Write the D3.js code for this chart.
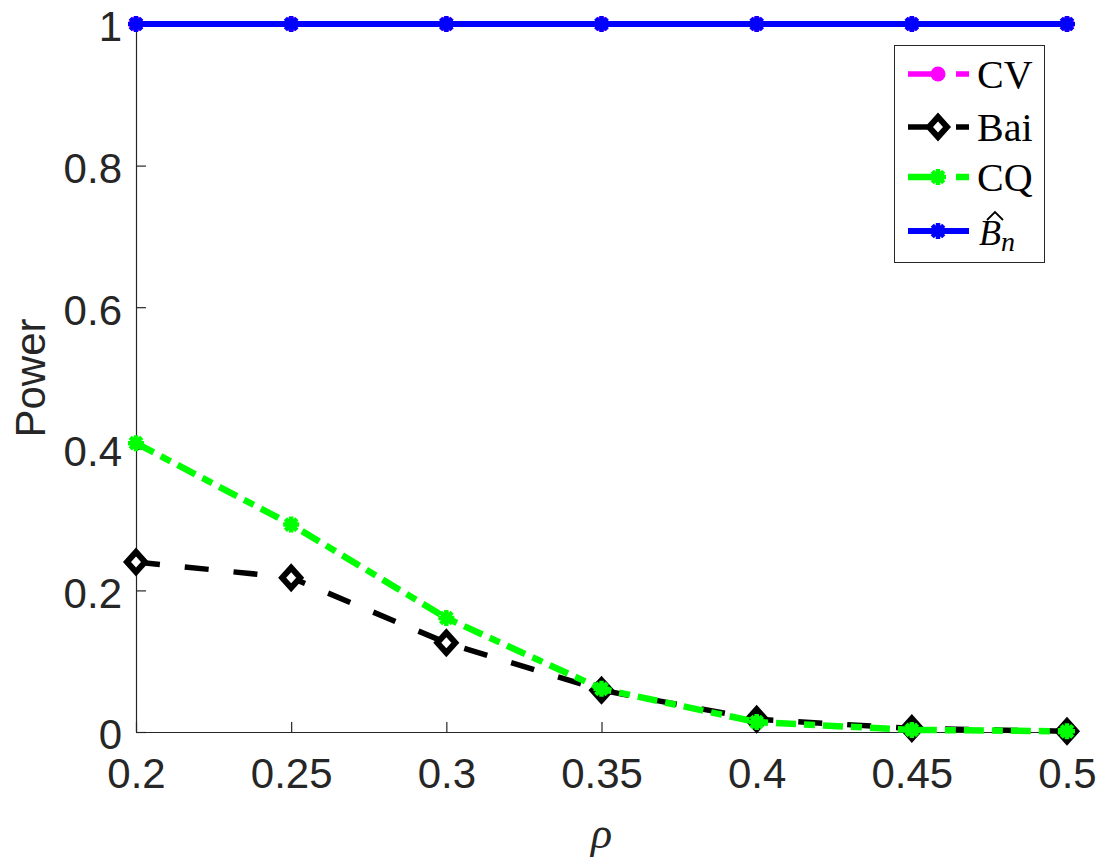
<!DOCTYPE html>
<html>
<head>
<meta charset="utf-8">
<script src="https://cdn.jsdelivr.net/npm/d3@7"></script>
<style>
  body { margin: 0; background: #fff; }
  svg { display: block; }
</style>
</head>
<body>
<svg id="chart" width="1096" height="857"></svg>
<script>
const width = 1096, height = 857;

// data
const rho = [0.2, 0.25, 0.3, 0.35, 0.4, 0.45, 0.5];
const cv  = [1, 1, 1, 1, 1, 1, 1];
const bai = [0.240, 0.218, 0.126, 0.059, 0.018, 0.005, 0.001];
const cq  = [0.408, 0.293, 0.161, 0.061, 0.014, 0.003, 0.001];
const bn  = [1, 1, 1, 1, 1, 1, 1];
const xTicks = [0.2, 0.25, 0.3, 0.35, 0.4, 0.45, 0.5];
const yTicks = [0, 0.2, 0.4, 0.6, 0.8, 1];

const svg = d3.select('#chart');

const x = d3.scaleLinear().domain([0.2, 0.5]).range([136, 1067]);
const y = d3.scaleLinear().domain([0, 1]).range([732, 24]);

const axisColor = "#262626";
const tickFont = "'Liberation Sans', Arial, sans-serif";

// --- AXES ---
const xAxis = svg.append("g")
  .attr("transform", `translate(0,${y(0)})`)
  .call(d3.axisBottom(x).tickValues(xTicks).tickFormat(d3.format("")).tickSize(-10).tickSizeOuter(0).tickPadding(26));

const yAxis = svg.append("g")
  .attr("transform", `translate(${x(0.2)},0)`)
  .call(d3.axisLeft(y).tickValues(yTicks).tickFormat(d3.format("")).tickSize(-10).tickSizeOuter(0).tickPadding(14));

[xAxis, yAxis].forEach(a => {
  a.select(".domain").attr("stroke", axisColor).attr("stroke-width", 1.2);
  a.selectAll(".tick line").attr("stroke", axisColor).attr("stroke-width", 1.2);
  a.selectAll(".tick text")
    .attr("fill", axisColor)
    .style("font-family", tickFont)
    .style("font-size", "42px");
});
yAxis.selectAll(".tick text").attr("dy", "0.4em");

svg.append("text")
  .attr("transform", `translate(45,${y(0.5)}) rotate(-90)`)
  .attr("text-anchor", "middle")
  .attr("fill", axisColor)
  .style("font-family", tickFont)
  .style("font-size", "42px")
  .text("Power");

svg.append("text")
  .attr("x", (x(0.2) + x(0.5)) / 2)
  .attr("y", 848)
  .attr("text-anchor", "middle")
  .attr("fill", axisColor)
  .style("font-family", "'Liberation Serif', 'DejaVu Serif', serif")
  .style("font-style", "italic")
  .style("font-size", "44px")
  .text("ρ");

// --- MARKERS ---
function asterisk(g, cx, cy, r, color, sw) {
  const d = r * 0.72;
  g.append("path")
    .attr("d", `M${cx - r},${cy}L${cx + r},${cy}M${cx},${cy - r}L${cx},${cy + r}` +
               `M${cx - d},${cy - d}L${cx + d},${cy + d}M${cx - d},${cy + d}L${cx + d},${cy - d}`)
    .attr("stroke", color).attr("stroke-width", sw).attr("fill", "none");
}
function diamond(g, cx, cy, color) {
  g.append("path")
    .attr("d", `M${cx},${cy - 10}L${cx + 9},${cy}L${cx},${cy + 10}L${cx - 9},${cy}Z`)
    .attr("stroke", color).attr("stroke-width", 6).attr("fill", "#fff")
    .attr("stroke-linejoin", "miter");
}
function dot(g, cx, cy, color) {
  g.append("circle").attr("cx", cx).attr("cy", cy).attr("r", 7.5).attr("fill", color);
}

const series = [
  { name: "CV",  values: cv,  color: "#ff00ff", width: 5.5, dash: "24,24",      marker: dot },
  { name: "Bai", values: bai, color: "#000000", width: 5.5, dash: "24,25",      marker: diamond },
  { name: "CQ",  values: cq,  color: "#00ff00", width: 6.5, dash: "20,8,11,8",  marker: (g, cx, cy, c) => asterisk(g, cx, cy, 8, c, 4.5) },
  { name: "Bn",  values: bn,  color: "#0000ff", width: 6,   dash: null,         marker: (g, cx, cy, c) => asterisk(g, cx, cy, 8, c, 4.5) }
];

const line = d3.line().x(d => x(d[0])).y(d => y(d[1]));

const plot = svg.append("g");
series.forEach(s => {
  const g = plot.append("g");
  const pts = rho.map((r, i) => [r, s.values[i]]);
  g.append("path")
    .datum(pts)
    .attr("d", line)
    .attr("fill", "none")
    .attr("stroke", s.color)
    .attr("stroke-width", s.width)
    .attr("stroke-dasharray", s.dash)
    .attr("stroke-linejoin", "round");
  pts.forEach(p => s.marker(g, x(p[0]), y(p[1]), s.color));
});

// --- LEGEND ---
const legend = svg.append("g");
legend.append("rect")
  .attr("x", 894.5).attr("y", 45.5).attr("width", 150).attr("height", 217)
  .attr("fill", "#fff").attr("stroke", "#262626").attr("stroke-width", 1);

const rowY = [74, 127, 177, 231];
const legendFont = "'Liberation Serif', 'DejaVu Serif', serif";
series.forEach((s, i) => {
  const cy = rowY[i];
  legend.append("line")
    .attr("x1", 908).attr("x2", 969).attr("y1", cy).attr("y2", cy)
    .attr("stroke", s.color).attr("stroke-width", s.width)
    .attr("stroke-dasharray", s.dash ? "36,12,13" : null);
  s.marker(legend, 938, cy, s.color);
});

const labels = ["CV", "Bai", "CQ"];
labels.forEach((t, i) => {
  legend.append("text")
    .attr("x", 977).attr("y", rowY[i] + 14)
    .style("font-family", legendFont)
    .style("font-size", "40px")
    .attr("fill", "#000")
    .text(t);
});

const bnText = legend.append("text")
  .attr("x", 979).attr("y", 245)
  .style("font-family", legendFont)
  .style("font-size", "36px")
  .attr("fill", "#000");
bnText.append("tspan").style("font-style", "italic").text("B");
bnText.append("tspan").style("font-style", "italic").style("font-size", "28px").attr("dy", 6).text("n");
// hat over B
legend.append("path")
  .attr("d", "M987,220L995,212L1003,220")
  .attr("fill", "none").attr("stroke", "#000").attr("stroke-width", 1.8);
</script>
</body>
</html>
